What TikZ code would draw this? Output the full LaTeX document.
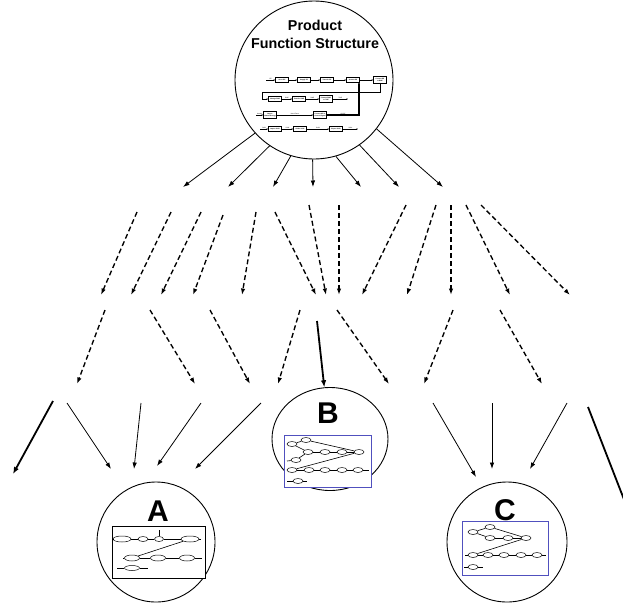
\documentclass[tikz,border=0pt]{standalone}
\usepackage{fontspec}
\setmainfont{Liberation Sans}
\usetikzlibrary{shapes.geometric,arrows.meta}
\definecolor{netblue}{RGB}{80,80,190}
\begin{document}
\begin{tikzpicture}[x=1pt,y=-1pt,
  bubble/.style={draw,ellipse,line width=0.9pt,inner sep=0pt},
  conn/.style={-{Latex[length=6.5pt,width=4.5pt]},line width=0.8pt},
  dconn/.style={-{Latex[length=6.5pt,width=4.5pt]},line width=1.35pt,dash pattern=on 5pt off 3pt},
  bconn/.style={-{Latex[length=7pt,width=5.5pt]},line width=1.8pt},
  fbox/.style={draw,fill=white,line width=0.6pt,minimum width=13pt,minimum height=5pt,inner sep=0pt,font=\fontsize{1.6}{1.8}\selectfont\bfseries,align=center},
  oval/.style={draw,fill=white,ellipse,line width=0.5pt,minimum width=10pt,minimum height=5pt,inner sep=0pt},
  flow/.style={line width=0.7pt,-{Latex[length=1.5pt,width=1.5pt]}},
  netl/.style={line width=0.6pt},
  tiny/.style={font=\fontsize{1.6}{1.8}\selectfont,inner sep=0.3pt},
  bigletter/.style={font=\fontsize{30}{30}\selectfont\bfseries,inner sep=0pt},
  ttl/.style={font=\fontsize{14.3}{18}\selectfont\bfseries,align=center,inner sep=0pt},
  netbox/.style={draw=netblue,fill=white,line width=0.8pt,inner sep=0pt},
  blkbox/.style={draw=black,fill=white,line width=0.7pt,inner sep=0pt}
]
\useasboundingbox (0,0) rectangle (623,603);

% ---------- top circle ----------
\node[bubble,minimum width=158pt,minimum height=158pt] (top) at (314,80) {};
\node[ttl] (ttl) at (315,34) {Product\\Function Structure};

% inner function structure
\begin{scope}[yshift=4pt]
\node[fbox] (f1) at (282,84) {Store EE};
\node[fbox] (f2) at (304,84) {Supply EE};
\node[fbox] (f3) at (327,84) {Transfer EE};
\node[fbox] (f4) at (353,84) {Actuate EE};
\node[fbox,minimum height=7pt] (f5) at (380,84) {Convert EE\\to RME};
\coordinate (fin) at (266,84);
\draw[flow] (fin) -- node[tiny,above]{EE} (f1);
\draw[flow] (f1) -- (f2);
\draw[flow] (f2) -- (f3);
\draw[flow] (f3) -- (f4);
\draw[flow] (f4) -- (f5);

\node[fbox] (g1) at (275,103) {Change RME};
\node[fbox] (g2) at (299,103) {Transfer RME};
\node[fbox,minimum height=7pt] (g3) at (326,103) {Convert RME\\to TME};
\coordinate (gout) at (348,103);
\draw[flow] (f5.south) -- ++(0,9) -| ++(-118,0) |- (g1.west);
\draw[flow] (g1) -- node[tiny,above]{RME} (g2);
\draw[flow] (g2) -- node[tiny,above]{RME} (g3);
\draw[flow] (g3) -- node[tiny,above]{TME} (gout);

\node[fbox,minimum height=7pt] (h1) at (270,119) {Import\\Human Energy};
\node[fbox,minimum height=7pt] (h2) at (320,119) {Convert HE to\\Control Signal};
\coordinate (hin) at (256,119);
\draw[flow] (hin) -- node[tiny,above]{Human} (h1);
\draw[flow] (h1) -- node[tiny,above]{Hand Force} (h2);
\draw[line width=1.3pt,-{Latex[length=1.5pt,width=2pt]}] (h2.east) -- node[tiny,above]{On/Off} (359,119) -- (359,86.6);

\node[fbox] (k1) at (275,133) {Import Solid};
\node[fbox] (k2) at (300,133) {Guide Solid};
\node[fbox] (k3) at (336,133) {Export Solid};
\coordinate (kin) at (260,133);
\coordinate (kout) at (358,133);
\draw[flow] (kin) -- node[tiny,above]{Solid} (k1);
\draw[flow] (k1) -- node[tiny,above]{Solid} (k2);
\draw[flow] (k2) -- node[tiny,above]{Solid} (k3);
\draw[flow] (k3) -- node[tiny,above]{Solid} (kout);
\end{scope}

% ---------- row 1 : solid arrows from the top circle ----------
\coordinate (t1) at (183,187);
\coordinate (t2) at (228,187);
\coordinate (t3) at (273,187);
\coordinate (t4) at (313,187);
\coordinate (t5) at (361,187);
\coordinate (t6) at (399,187);
\coordinate (t7) at (443,187);
\draw[conn] (top.-138) -- (t1);
\draw[conn] (top.-124) -- (t2);
\draw[conn] (top.-107) -- (t3);
\draw[conn] (top.-91) -- (t4);
\draw[conn] (top.-74) -- (t5);
\draw[conn] (top.-55) -- (t6);
\draw[conn] (top.-38) -- (t7);

% ---------- row 2 : dashed ----------
\foreach \i/\sx/\sy/\tx/\ty in {
  1/137/212/101/295, 2/171/212/131/295, 3/201/212/161/295, 4/223/215/193/295,
  5/256/212/242/295, 6/275/212/316/295, 7/309/205/326/295, 8/339/205/339/295,
  9/406/205/362/295, 10/436/205/407/295, 11/451/205/451/295, 12/466/205/510/295,
  13/481/205/570/295}{
  \coordinate (ds\i) at (\sx,\sy);
  \coordinate (dt\i) at (\tx,\ty);
  \draw[dconn] (ds\i) -- (dt\i);
}

% ---------- row 3 : dashed ----------
\foreach \i/\sx/\sy/\tx/\ty in {
  1/105/310/77/384, 2/150/310/195/384, 3/210/310/250/384, 4/300/310/278/384,
  5/337/310/389/384, 6/453/310/424/384, 7/500/310/542/384}{
  \coordinate (es\i) at (\sx,\sy);
  \coordinate (et\i) at (\tx,\ty);
  \draw[dconn] (es\i) -- (et\i);
}

% ---------- circle B ----------
\node[bubble,minimum width=116pt,minimum height=103pt] (B) at (330,439) {};
\node[bigletter] (Bl) at (328,413) {B};
\coordinate (bs) at (317,321);
\draw[bconn] (bs) -- (B);

\node[netbox,minimum width=87pt,minimum height=52pt] (Bbox) at (327.5,461) {};
\node[oval] (b1) at (292,444) {};
\node[oval] (b2) at (306,440) {};
\node[oval] (b3) at (308,452) {};
\node[oval] (b4) at (325,452) {};
\node[oval] (b5) at (342,452) {};
\node[oval] (b6) at (359,452) {};
\node[oval] (b7) at (296,460) {};
\node[oval] (b8) at (292,470) {};
\node[oval] (b9) at (309,470) {};
\node[oval] (b10) at (325,470) {};
\node[oval] (b11) at (342,470) {};
\node[oval] (b12) at (358,470) {};
\node[oval] (b13) at (298,481) {};
\coordinate (b7in) at (287,461);
\coordinate (b12out) at (369,470);
\coordinate (b13in) at (287,481);
\coordinate (b13out) at (307,481);
\draw[netl] (b1) -- (b2); \draw[netl] (b1) -- (b3); \draw[netl] (b2) -- (b6);
\draw[netl] (b3) -- (b4); \draw[netl] (b4) -- (b5); \draw[netl] (b5) -- (b6);
\draw[netl] (b7in) -- (b7); \draw[netl] (b7) -- (b3);
\draw[netl] (b6) -- (b8);
\draw[netl] (b8) -- (b9); \draw[netl] (b9) -- (b10); \draw[netl] (b10) -- (b11); \draw[netl] (b11) -- (b12); \draw[netl] (b12) -- (b12out);
\draw[line width=1pt] (b13in) -- (b13); \draw[line width=1pt] (b13) -- (b13out);

% ---------- row 4 : solid ----------
\foreach \i/\sx/\sy/\tx/\ty in {
  2/67/403/111/469, 3/141/403/134/469, 4/201/403/157/466, 5/261/403/195/469,
  6/433/403/476/477, 7/492/403/492/469, 8/567/403/530/469}{
  \coordinate (fs\i) at (\sx,\sy);
  \coordinate (ft\i) at (\tx,\ty);
  \draw[conn] (fs\i) -- (ft\i);
}
\coordinate (fs1) at (53,401);
\coordinate (ft1) at (13,474);
\draw[bconn] (fs1) -- (ft1);
\coordinate (fs9) at (588,407);
\coordinate (ft9) at (632,520);
\draw[bconn] (fs9) -- (ft9);

% ---------- circle A ----------
\node[bubble,minimum width=118pt,minimum height=120pt] (A) at (156,542) {};
\node[bigletter] (Al) at (158,511) {A};
\node[blkbox,minimum width=93pt,minimum height=52pt] (Abox) at (158.5,552) {};
\node[oval,minimum width=18pt,minimum height=6pt] (a1) at (122,539) {};
\node[oval,minimum width=10pt] (a2) at (143,539) {};
\node[oval,minimum width=9pt] (a3) at (159,539) {};
\node[oval,minimum width=18pt,minimum height=6pt] (a4) at (190,539) {};
\node[oval,minimum width=15pt,minimum height=6pt] (a5) at (132,558) {};
\node[oval,minimum width=15pt,minimum height=6pt] (a6) at (158,558) {};
\node[oval,minimum width=15pt,minimum height=6pt] (a7) at (187,558) {};
\node[oval,minimum width=15pt,minimum height=5pt] (a8) at (132,568) {};
\coordinate (a1in) at (114,539);
\coordinate (a4out) at (201,539);
\coordinate (a3lab) at (159,530);
\coordinate (a5in) at (123,558);
\coordinate (a7out) at (202,558);
\coordinate (a8in) at (117,568);
\coordinate (a8out) at (148,568);
\draw[netl] (a1in) -- (a1); \draw[netl] (a1) -- (a2); \draw[netl] (a2) -- (a3); \draw[netl] (a3) -- (a4); \draw[netl] (a4) -- (a4out);
\draw[netl] (a3lab) -- (a3);
\draw[netl] (a4) -- (a5);
\draw[netl] (a5in) -- (a5); \draw[netl] (a5) -- (a6); \draw[netl] (a6) -- (a7); \draw[netl] (a7) -- (a7out);
\draw[line width=1pt] (a8in) -- (a8); \draw[line width=1pt] (a8) -- (a8out);

% ---------- circle C ----------
\node[bubble,minimum width=120pt,minimum height=120pt] (C) at (507,542) {};
\node[bigletter] (Cl) at (505,510) {C};
\node[netbox,minimum width=86pt,minimum height=54pt] (Cbox) at (505,548) {};
\node[oval] (c1) at (473,532) {};
\node[oval] (c2) at (490,527) {};
\node[oval] (c3) at (490,538) {};
\node[oval] (c4) at (508,538) {};
\node[oval] (c5) at (526,538) {};
\node[oval] (c6) at (473,555) {};
\node[oval] (c7) at (488,555) {};
\node[oval] (c8) at (504,555) {};
\node[oval] (c9) at (521,555) {};
\node[oval] (c10) at (537,555) {};
\node[oval] (c11) at (473,567) {};
\coordinate (c10out) at (546,555);
\coordinate (c6in) at (465,555);
\coordinate (c11in) at (464,567);
\coordinate (c11out) at (483,567);
\draw[netl] (c1) -- (c2); \draw[netl] (c1) -- (c3); \draw[netl] (c2) -- (c5);
\draw[netl] (c3) -- (c4); \draw[netl] (c4) -- (c5);
\draw[netl] (c5) -- (c6);
\draw[netl] (c6in) -- (c6); \draw[netl] (c6) -- (c7); \draw[netl] (c7) -- (c8); \draw[netl] (c8) -- (c9); \draw[netl] (c9) -- (c10); \draw[netl] (c10) -- (c10out);
\draw[line width=1pt] (c11in) -- (c11); \draw[line width=1pt] (c11) -- (c11out);
\end{tikzpicture}
\end{document}
